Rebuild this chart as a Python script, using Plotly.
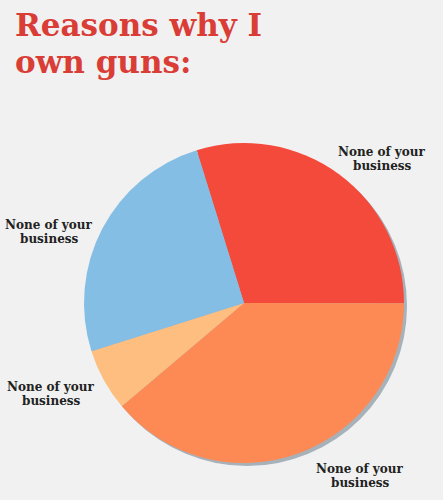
import plotly.graph_objects as go

categories = ["Reason A", "Reason B", "Reason C", "Reason D"]
values = [29.8, 38.8, 6.3, 25.1]
colors = ["#f44a3b", "#fd8a55", "#fdbe80", "#84bee4"]
label_lines = ["None of your", "business"]
title_lines = ["Reasons why I", "own guns:"]

W, H = 443, 500
cx, cy, r = 244, 303, 160

def dom(cx, cy, r):
    return dict(x=[(cx - r) / W, (cx + r) / W], y=[(H - cy - r) / H, (H - cy + r) / H])

fig = go.Figure()
# shadow
fig.add_trace(go.Pie(values=[1], labels=["shadow"], marker=dict(colors=["#a7b1ba"], line=dict(width=0)),
                     textinfo="none", hoverinfo="skip", sort=False, showlegend=False,
                     domain=dom(cx + 3, cy + 3, r)))
fig.add_trace(go.Pie(values=values, labels=categories, marker=dict(colors=colors, line=dict(width=0)),
                     textinfo="none", hoverinfo="skip", sort=False, direction="clockwise",
                     rotation=-17.2, showlegend=False, domain=dom(cx, cy, r)))

title_font = dict(family="DejaVu Serif", size=31, color="#d93d36")
for txt, ymid in zip(title_lines, [25, 62]):
    fig.add_annotation(text="<b>" + txt + "</b>", x=13 / W, y=1 - ymid / H, xref="paper", yref="paper",
                       xanchor="left", yanchor="middle", showarrow=False, font=title_font)

lab_font = dict(family="DejaVu Serif", size=12, color="#222222")
for (x, y) in [(382, 159), (49, 232), (51, 394), (360, 476)]:
    for txt, dy in zip(label_lines, [-7, 7]):
        fig.add_annotation(text="<b>" + txt + "</b>", x=x / W, y=1 - (y + dy) / H, xref="paper", yref="paper",
                           xanchor="center", yanchor="middle", showarrow=False, font=lab_font,
                           align="center")

fig.update_layout(width=W, height=H, margin=dict(l=0, r=0, t=0, b=0),
                  paper_bgcolor="#f1f1f1", plot_bgcolor="#f1f1f1")
fig.write_html("out.html", config={"displayModeBar": False},
               post_script="document.body.style.margin='0';document.body.style.background='#f1f1f1';")
